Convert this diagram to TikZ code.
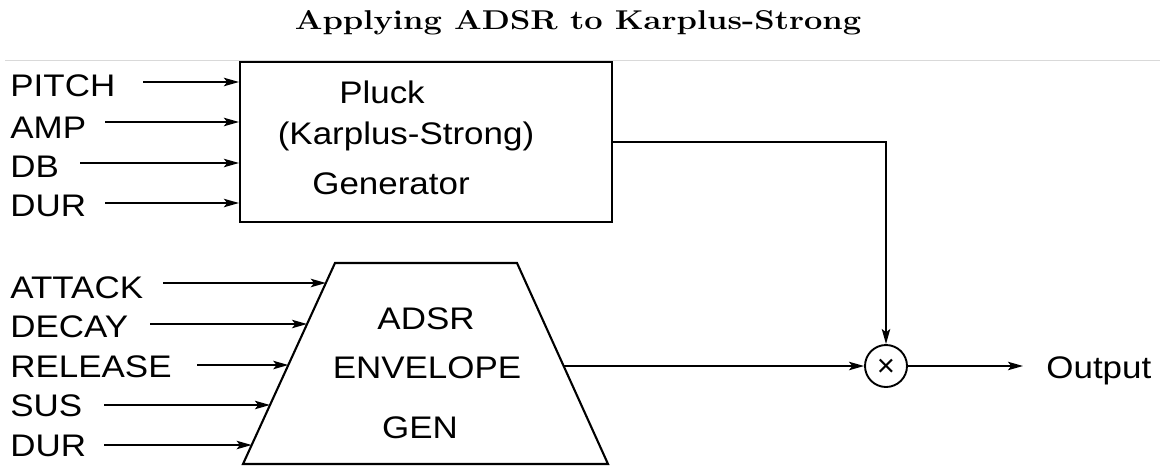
\documentclass[tikz,border=0pt]{standalone}
\usepackage{fontspec}
\usepackage{graphicx}
\setsansfont{Liberation Sans}
\usetikzlibrary{arrows.meta,calc}
\newcommand\hstr[1]{\scalebox{1.12}[1]{#1}}
\newcommand\tstr[1]{\scalebox{1.2}[1]{#1}}
\begin{document}
\begin{tikzpicture}[x=0.5pt,y=-0.5pt,
  lab/.style={font=\fontsize{15.6}{18}\selectfont\sffamily, inner sep=0pt, text height=11.2pt, text depth=0pt, anchor=west},
  txt/.style={font=\fontsize{15.6}{18}\selectfont\sffamily, inner sep=0pt, text height=11.2pt, text depth=0pt},
  arr/.style={-{Stealth[length=7.5pt,width=4.2pt,inset=1.6pt]}, line width=0.95pt},
  blk/.style={draw, line width=1.05pt, inner sep=0pt}]
\useasboundingbox (0,0) rectangle (1160,466);
% title and rule
\node[font=\fontsize{13.6}{15}\selectfont\bfseries, anchor=base, inner sep=0pt] (title) at (578,29) {\tstr{Applying ADSR to Karplus-Strong}};
\coordinate (ruleL) at (5,60);
\coordinate (ruleR) at (1160,60);
\draw[black!15, line width=0.5pt] (ruleL) -- (ruleR);
% pluck generator box
\node[blk, minimum width=186pt, minimum height=80pt] (box) at (426,142) {};
\node[txt] (t1) at (382,92) {\hstr{Pluck}};
\node[txt] (t2) at (406,133) {\hstr{(Karplus-Strong)}};
\node[txt] (t3) at (391,183) {\hstr{Generator}};
% top inputs
\node[lab] (pitch) at (10,85) {\hstr{PITCH}};
\node[lab] (amp) at (10,127.5) {\hstr{AMP}};
\node[lab] (db) at (10,166) {\hstr{DB}};
\node[lab] (dur1) at (10,205) {\hstr{DUR}};
\coordinate (ipitch) at (143,82);
\coordinate (iamp) at (105,122);
\coordinate (idb) at (80,163);
\coordinate (idur1) at (105,203);
\draw[arr] (ipitch) -- (ipitch -| box.west);
\draw[arr] (iamp) -- (iamp -| box.west);
\draw[arr] (idb) -- (idb -| box.west);
\draw[arr] (idur1) -- (idur1 -| box.west);
% envelope trapezoid
\coordinate (tl) at (335,263);
\coordinate (tr) at (517,263);
\coordinate (bl) at (243,464);
\coordinate (br) at (608,464);
\draw[line width=1.05pt, line join=miter] (tl) -- (tr) -- (br) -- (bl) -- cycle;
\node[txt] (e1) at (426,318) {\hstr{ADSR}};
\node[txt] (e2) at (427,367) {\hstr{ENVELOPE}};
\node[txt] (e3) at (420,427) {\hstr{GEN}};
% envelope inputs
\node[lab] (attack) at (10,287) {\hstr{ATTACK}};
\node[lab] (decay) at (10,326) {\hstr{DECAY}};
\node[lab] (release) at (10,366) {\hstr{RELEASE}};
\node[lab] (sus) at (10,405) {\hstr{SUS}};
\node[lab] (dur2) at (10,445) {\hstr{DUR}};
\coordinate (iattack) at (163,283);
\coordinate (idecay) at (150,324);
\coordinate (irelease) at (197,365);
\coordinate (isus) at (104,405);
\coordinate (idur2) at (104,445);
\draw[arr] (iattack) -- ($(bl)!0.9005!(tl)$);
\draw[arr] (idecay) -- ($(bl)!0.6965!(tl)$);
\draw[arr] (irelease) -- ($(bl)!0.4925!(tl)$);
\draw[arr] (isus) -- ($(bl)!0.2935!(tl)$);
\draw[arr] (idur2) -- ($(bl)!0.0945!(tl)$);
% multiplier
\node[draw, circle, line width=0.95pt, minimum size=21pt, inner sep=0pt] (mul) at (886,366) {};
\node[font=\fontsize{15.6}{18}\selectfont\sffamily, inner sep=0pt] (mulsign) at ($(mul.center)+(0,1.5)$) {×};
\coordinate (envout) at ($(tr)!0.5124!(br)$);
\draw[arr] (envout) -- (mul.west);
\draw[arr] (box.east) -| (mul.north);
% output
\node[lab] (out) at (1046,367) {\hstr{Output}};
\draw[arr] (mul.east) -- ($(out.west)+(-23,-1)$);
\end{tikzpicture}
\end{document}
